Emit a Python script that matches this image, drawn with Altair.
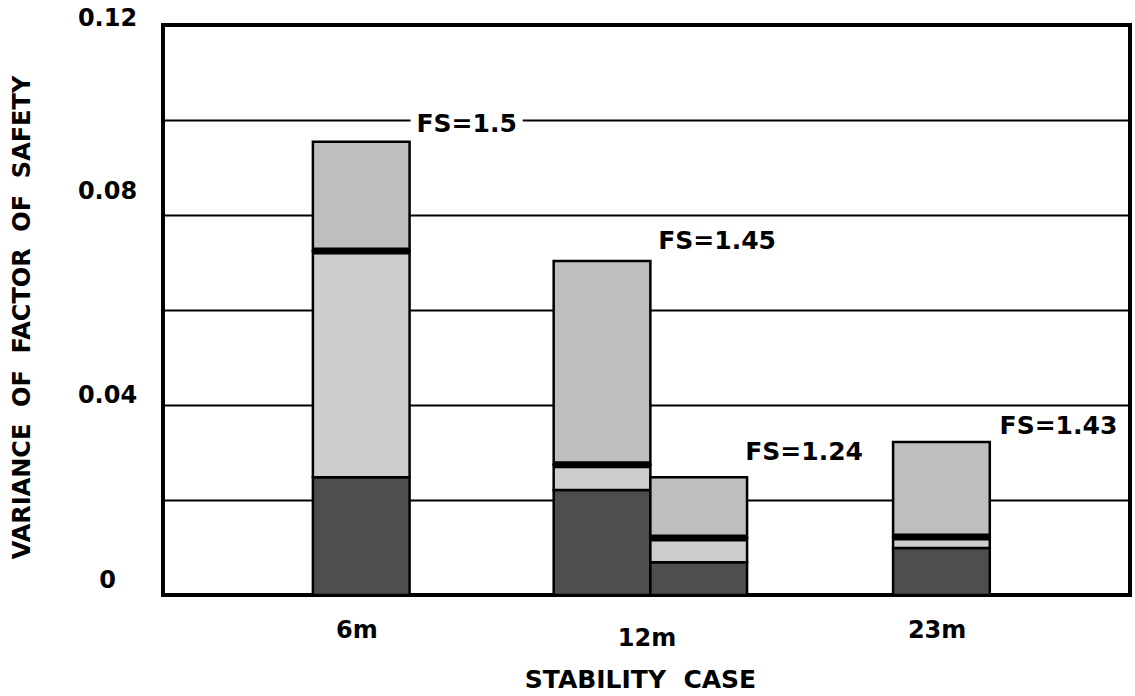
import altair as alt
import pandas as pd

# ---- data ----
cases = ["6m", "12m", "12m", "23m"]
slots = [2.05, 4.54, 5.54, 8.05]            # bar centres on the case axis
bottom_var = [0.0248, 0.0221, 0.0069, 0.0099]
line_var = [0.0724, 0.0274, 0.0120, 0.0122]
total_var = [0.0954, 0.0703, 0.0248, 0.0322]

fs_labels = ["FS=1.5", "FS=1.45", "FS=1.24", "FS=1.43"]
fs_x = [3.14, 5.73, 6.63, 9.26]
fs_y = [0.0992, 0.0745, 0.0301, 0.0355]

case_ticks = [2, 5, 8]
case_names = ["6m", "12m", "23m"]
y_grid = [0, 0.02, 0.04, 0.06, 0.08, 0.10, 0.12]
y_labels = [0, 0.04, 0.08, 0.12]

# label gap in the 0.10 grid line behind "FS=1.5"
mask_x0 = [2.56]
mask_x1 = [3.72]
mask_y0 = [0.0975]
mask_y1 = [0.1015]

# ---- tables ----
rows = []
for c, s, b, l, t in zip(cases, slots, bottom_var, line_var, total_var):
    rows.append(dict(case=c, x0=s - 0.5, x1=s + 0.5, y0=0.0, y1=b, part="bottom"))
    rows.append(dict(case=c, x0=s - 0.5, x1=s + 0.5, y0=b, y1=l, part="middle"))
    rows.append(dict(case=c, x0=s - 0.5, x1=s + 0.5, y0=l, y1=t, part="top"))
segs = pd.DataFrame(rows)
lines = pd.DataFrame(dict(case=cases, x0=[s - 0.5 for s in slots],
                          x1=[s + 0.5 for s in slots], y0=line_var))
labels = pd.DataFrame(dict(text=fs_labels, x0=fs_x, y0=fs_y))
mask = pd.DataFrame(dict(x0=mask_x0, x1=mask_x1, y0=mask_y0, y1=mask_y1))

FONT = "DejaVu Sans"
NB = "\u00a0"
xscale = alt.Scale(domain=[0, 10], nice=False, zero=False)
yscale = alt.Scale(domain=[0, 0.12], nice=False, zero=False)

name_expr = " : ".join(
    f"datum.value == {v} ? '{n}'" for v, n in zip(case_ticks[:-1], case_names[:-1])
) + f" : '{case_names[-1]}'"
lab_idx = ",".join(str(int(round(v * 100))) for v in y_labels)
y_expr = (f"indexof([{lab_idx}], round(datum.value*100)) >= 0 ? "
          "(datum.value == 0 ? '0' : format(datum.value, '.2f')) : ''")

x_axis = alt.Axis(
    values=case_ticks, labelExpr=name_expr, grid=False, ticks=False, tickSize=0,
    domain=False,
    labelPadding={"condition": {"test": "datum.value == 5", "value": 31}, "value": 23},
    labelFont=FONT, labelFontWeight="bold", labelFontSize=24, labelColor="black",
    title=f"STABILITY{NB} CASE", titleFont=FONT, titleFontWeight="bold",
    titleFontSize=25, titleColor="black", titleX=477, titleY=84,
    titleBaseline="middle", titleAlign="center",
)
y_axis = alt.Axis(
    values=y_grid, labelExpr=y_expr, grid=True, gridColor="black", gridWidth=2,
    gridOpacity=1, ticks=False, tickSize=0, domain=False,
    labelPadding=56, labelAlign="center",
    labelOffset={"condition": [
        {"test": "datum.value > 0.11", "value": -7},
        {"test": "datum.value > 0.07 && datum.value < 0.09", "value": -24},
        {"test": "datum.value < 0.01", "value": -15},
    ], "value": -10},
    labelFont=FONT, labelFontWeight="bold", labelFontSize=24, labelColor="black",
    title=f"VARIANCE{NB} OF{NB} FACTOR{NB} OF{NB} SAFETY", titleFont=FONT,
    titleFontWeight="bold", titleFontSize=24, titleColor="black",
    titleX=-141, titleY=292, titleAngle=270, titleBaseline="middle",
    titleAlign="center",
)


def X(field):
    return alt.X(field, type="quantitative", scale=xscale, axis=x_axis)


def Y(field):
    return alt.Y(field, type="quantitative", scale=yscale, axis=y_axis)


mask_layer = alt.Chart(mask).mark_rect(color="white").encode(
    x=X("x0"), x2="x1", y=Y("y0"), y2="y1",
)

seg_layer = alt.Chart(segs).mark_rect(stroke="black", strokeWidth=2.5).encode(
    x=X("x0"), x2="x1", y=Y("y0"), y2="y1",
    color=alt.Color("part:N", legend=None,
                    scale=alt.Scale(domain=["bottom", "middle", "top"],
                                    range=["#4e4e4e", "#cdcdcd", "#bebebe"])),
)

line_layer = alt.Chart(lines).mark_rule(color="black", strokeWidth=7).encode(
    x=X("x0"), x2="x1", y=Y("y0"),
)

text_layer = alt.Chart(labels).mark_text(
    font=FONT, fontWeight="bold", fontSize=25, color="black",
    align="center", baseline="middle",
).encode(
    x=X("x0"), y=Y("y0"), text="text:N",
)

chart = alt.layer(mask_layer, seg_layer, line_layer, text_layer).properties(
    width=967, height=570,
    padding={"left": 163, "top": 25, "right": 5, "bottom": 101},
    autosize="none",
    background="white",
).configure_view(stroke="black", strokeWidth=4)

chart.save("out.html", embed_options={"renderer": "svg", "actions": False})
